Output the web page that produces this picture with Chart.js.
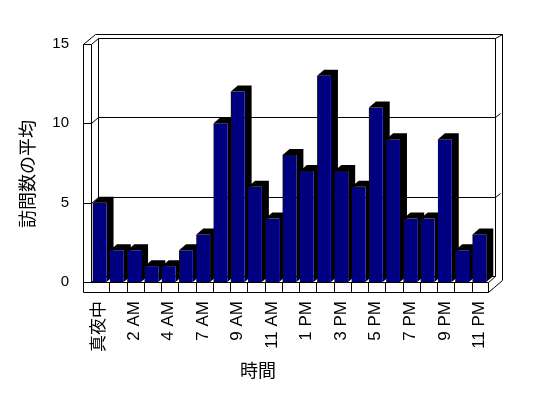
<!DOCTYPE html>
<html>
<head>
<meta charset="utf-8">
<script src="https://cdn.jsdelivr.net/npm/chart.js@4"></script>
<style>
  html, body { margin: 0; padding: 0; background: #fff; }
  #wrap { width: 548px; height: 398px; position: relative; }
</style>
</head>
<body>
<div id="wrap"><canvas id="chart" width="548" height="398"></canvas></div>
<script>
// ---------- Data ----------
const hours = [
  "真夜中", "1 AM", "2 AM", "3 AM", "4 AM", "6 AM", "7 AM", "8 AM", "9 AM", "10 AM", "11 AM",
  "正午", "1 PM", "2 PM", "3 PM", "4 PM", "5 PM", "6 PM", "7 PM", "8 PM", "9 PM", "10 PM", "11 PM"
];
const avgVisits = [5, 2, 2, 1, 1, 2, 3, 10, 12, 6, 4, 8, 7, 13, 7, 6, 11, 9, 4, 4, 9, 2, 3];
const yTicks = [0, 5, 10, 15];
const yTitle = "訪問数の平均";
const xTitle = "時間";

const FONT = '"Liberation Sans", "Noto Sans CJK JP", sans-serif';
const DX = 7, DY = -6;   // depth offset of the 3d look

// ---------- 3D frame + bar sides ----------
function line(ctx, x1, y1, x2, y2) {
  ctx.beginPath();
  ctx.moveTo(Math.round(x1) + 0.5, Math.round(y1) + 0.5);
  ctx.lineTo(Math.round(x2) + 0.5, Math.round(y2) + 0.5);
  ctx.stroke();
}

const frame3d = {
  id: "frame3d",
  beforeDatasetsDraw(chart) {
    const ctx = chart.ctx;
    const { left: L, right: R, top: T, bottom: B } = chart.chartArea;
    const ys = chart.scales.y;
    const xs = chart.scales.x;
    ctx.save();
    ctx.strokeStyle = "#000";
    ctx.lineWidth = 1;

    // left wall slab
    line(ctx, L - 8, T, L - 8, B + 10);
    line(ctx, L, T, L, B);
    line(ctx, L - 8, T, L, T);
    line(ctx, L - 8, T, L + 4, T - 10);
    line(ctx, L, T, L + DX, T + DY);
    // back wall
    line(ctx, L + 4, T - 10, R + 14, T - 10);
    line(ctx, L + DX, T + DY, R + DX, T + DY);
    line(ctx, R + DX, T + DY, R + 14, T - 10);
    line(ctx, R + 14, T - 10, R + 14, B - 2);
    line(ctx, R + DX, T + DY, R + DX, B + DY);
    line(ctx, L + DX, T + DY, L + DX, B + DY);

    // grid lines on the back wall
    yTicks.forEach(v => {
      if (v === 15) return;
      const y = ys.getPixelForValue(v);
      line(ctx, L - 8, y, L, y);
      line(ctx, L, y, L + DX, y + DY);
      line(ctx, L + DX, y + DY, R + DX, y + DY);
      if (v > 0) line(ctx, R + DX, y + DY, R + 12, y + DY - 4);
    });

    // floor
    line(ctx, L - 8, B + 10, R, B + 10);
    line(ctx, L, B, R, B);
    line(ctx, R, B, R, B + 10);
    line(ctx, R, B + 10, R + 14, B - 2);
    line(ctx, R, B, R + DX, B + DY);
    for (let i = 1; i < hours.length; i++) {
      const x = (xs.getPixelForValue(i - 1) + xs.getPixelForValue(i)) / 2 + 1;
      line(ctx, x, B, x, B + 10);
    }

    // black sides/tops of the bars
    ctx.fillStyle = "#000";
    chart.getDatasetMeta(0).data.forEach(bar => {
      const p = bar.getProps(["x", "y", "base", "width"], true);
      const x0 = p.x - p.width / 2, x1 = p.x + p.width / 2;
      ctx.beginPath();
      ctx.moveTo(x0, p.y);
      ctx.lineTo(x0 + DX, p.y + DY);
      ctx.lineTo(x1 + DX, p.y + DY);
      ctx.lineTo(x1 + DX, p.base + DY);
      ctx.lineTo(x1, p.base);
      ctx.lineTo(x1, p.y);
      ctx.closePath();
      ctx.fill();
    });
    ctx.restore();
  },
  afterDraw(chart) {
    const ctx = chart.ctx;
    ctx.save();
    ctx.fillStyle = "#000";
    ctx.textAlign = "center";
    ctx.textBaseline = "middle";
    ctx.font = "18px " + FONT;
    ctx.fillText(xTitle, 258, 372);
    ctx.translate(29, 174);
    ctx.rotate(-Math.PI / 2);
    ctx.fillText(yTitle, 0, 0);
    ctx.restore();
  }
};

// ---------- Chart ----------
new Chart(document.getElementById("chart"), {
  type: "bar",
  data: {
    labels: hours,
    datasets: [{
      data: avgVisits,
      backgroundColor: "#000080",
      borderWidth: 0,
      categoryPercentage: 1,
      barPercentage: 0.8
    }]
  },
  options: {
    responsive: false,
    animation: false,
    layout: { padding: { left: 0, right: 60, top: 44, bottom: 0 } },
    plugins: { legend: { display: false }, tooltip: { enabled: false } },
    scales: {
      x: {
        grid: { display: false, drawTicks: false },
        border: { display: false },
        ticks: {
          autoSkip: false,
          minRotation: 90,
          maxRotation: 90,
          padding: 19,
          color: "#000",
          font: { size: 17, family: FONT },
          callback: (v, i) => (i % 2 === 0 ? hours[i] : "")
        },
        afterFit: s => { s.height = 116; }
      },
      y: {
        min: 0,
        max: 15,
        afterBuildTicks: s => { s.ticks = yTicks.map(v => ({ value: v })); },
        grid: { display: false, drawTicks: false },
        border: { display: false },
        ticks: { padding: 22, color: "#000", font: { size: 15, family: FONT } },
        afterFit: s => { s.width = 91; }
      }
    }
  },
  plugins: [frame3d]
});
</script>
</body>
</html>
